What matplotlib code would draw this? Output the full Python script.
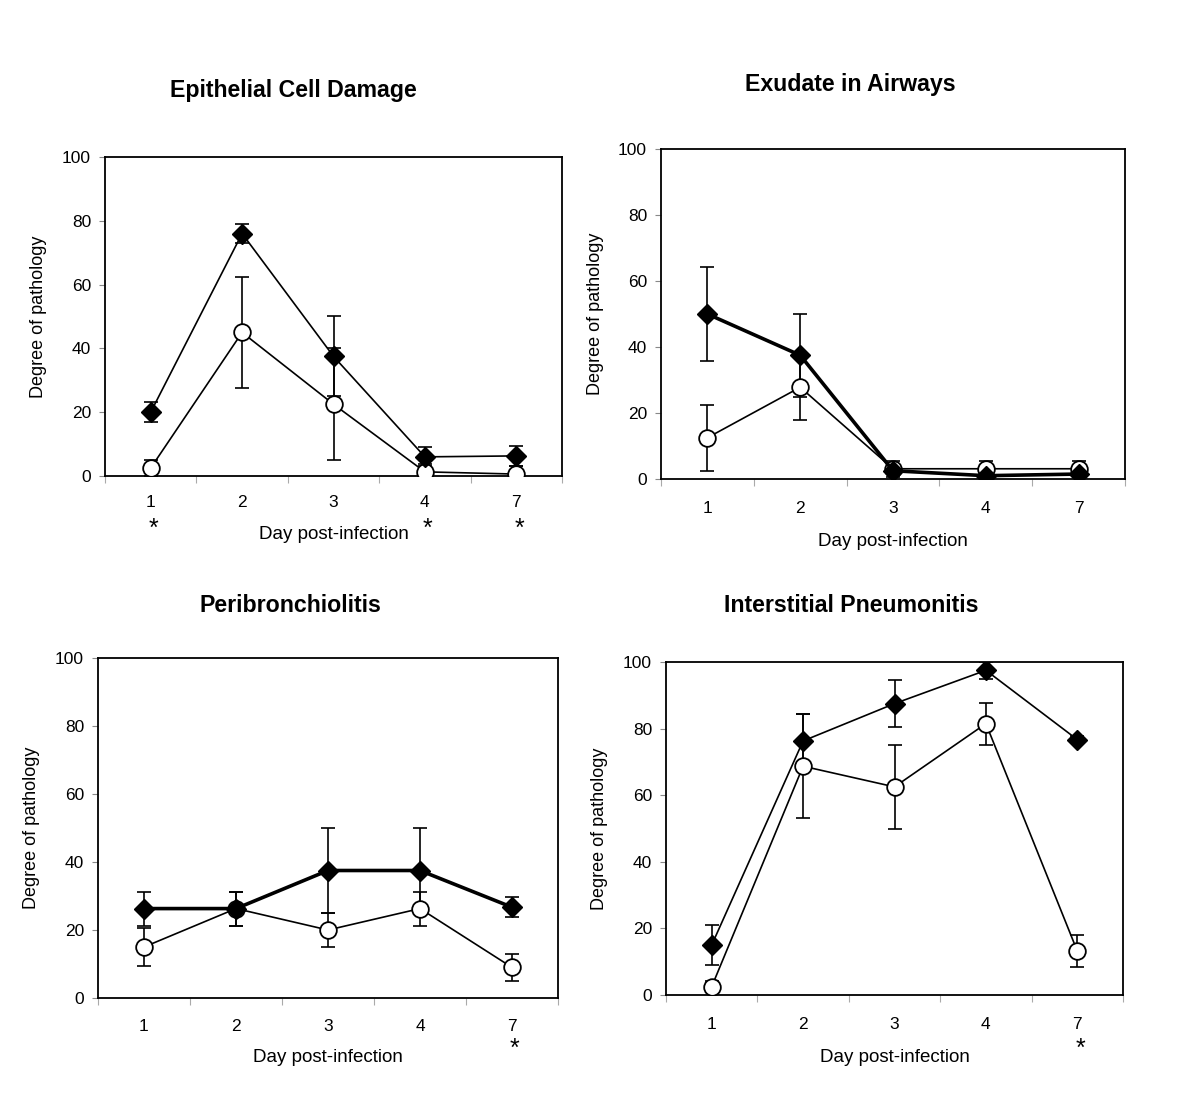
import matplotlib
matplotlib.use("Agg")
import matplotlib.pyplot as plt
from matplotlib.transforms import blended_transform_factory

plt.rcParams['font.family'] = ['Liberation Sans', 'DejaVu Sans']

days = ['1', '2', '3', '4', '7']

# Epithelial Cell Damage
epi_filled = [20, 76, 37.5, 6, 6.3]
epi_filled_err = [3.2, 3, 12.5, 3, 3.2]
epi_open = [2.5, 45, 22.5, 1.3, 0.6]
epi_open_err = [2.5, 17.5, 17.5, 2.5, 2.5]
epi_stars = ['1', '4', '7']

# Exudate in Airways
exu_filled = [50, 37.5, 2.5, 1, 1.5]
exu_filled_err = [14.3, 12.5, 1, 1, 1]
exu_open = [12.5, 27.8, 3.1, 3.1, 3.1]
exu_open_err = [10, 10, 2.5, 2.5, 2.5]
exu_stars = []

# Peribronchiolitis
peri_filled = [26.3, 26.3, 37.5, 37.5, 26.7]
peri_filled_err = [5, 5, 12.5, 12.5, 3]
peri_open = [15, 26.3, 20, 26.3, 9]
peri_open_err = [5.7, 5, 5, 5, 4]
peri_stars = ['7']

# Interstitial Pneumonitis
int_filled = [15, 76.3, 87.5, 97.5, 76.7]
int_filled_err = [6, 8, 7, 2.5, 1]
int_open = [2.5, 68.7, 62.5, 81.5, 13.2]
int_open_err = [1.7, 15.6, 12.5, 6.3, 4.7]
int_stars = ['7']

W, H = 1200, 1107
fig = plt.figure(figsize=(W / 100, H / 100), dpi=100)


def px_axes(left, top, right, bottom):
    return fig.add_axes([left / W, 1 - bottom / H, (right - left) / W, (bottom - top) / H])


def draw_panel(box, title, title_xy, filled, filled_err, opn, opn_err, stars,
               thick, tick_pad, xlabel_y, ylabel_x, star_y):
    ax = px_axes(*box)
    x = list(range(len(days)))
    ax.errorbar(x, filled, yerr=filled_err, fmt='none', ecolor='black',
                elinewidth=1.2, capsize=5, capthick=1.2, zorder=2)
    ax.errorbar(x, opn, yerr=opn_err, fmt='none', ecolor='black',
                elinewidth=1.2, capsize=5, capthick=1.2, zorder=2)
    ax.plot(x, opn, color='black', lw=1.2, marker='o', ms=12,
            mfc='white', mec='black', mew=1.3, zorder=3)
    ax.plot(x, filled, color='black', lw=2.6 if thick else 1.2, marker='D', ms=10.5,
            mfc='black', mec='black', zorder=4)

    ax.set_xlim(-0.5, len(days) - 0.5)
    ax.set_ylim(0, 100)
    ax.set_yticks([0, 20, 40, 60, 80, 100])
    ax.tick_params(axis='y', labelsize=12.5, length=4, width=0.8, pad=6, color='#888888')

    ax.set_xticks([i - 0.5 for i in range(len(days) + 1)])
    ax.set_xticklabels([])
    ax.tick_params(axis='x', which='major', length=5, width=0.8, color='#aaaaaa')
    ax.set_xticks(x, minor=True)
    ax.set_xticklabels(days, minor=True)
    ax.tick_params(axis='x', which='minor', length=0, labelsize=12.5, pad=tick_pad)

    for s in ax.spines.values():
        s.set_linewidth(1.3)

    ax.set_xlabel('Day post-infection', fontsize=13.5)
    ax.xaxis.set_label_coords(0.5, xlabel_y)
    ax.set_ylabel('Degree of pathology', fontsize=13)
    ax.yaxis.set_label_coords(ylabel_x, 0.5)

    tr = blended_transform_factory(ax.transData, ax.transAxes)
    for d in stars:
        ax.text(days.index(d) + 0.03, star_y, '*', transform=tr, ha='center',
                va='center', fontsize=18)

    fig.text(title_xy[0] / W, 1 - title_xy[1] / H, title, ha='center', va='center',
             fontsize=16.7, fontweight='bold')
    return ax


draw_panel((105, 157, 562, 476), 'Epithelial Cell Damage', (293, 90),
           epi_filled, epi_filled_err, epi_open, epi_open_err, epi_stars,
           False, 14, -0.158, -0.127, -0.165)
draw_panel((661, 149, 1125, 479), 'Exudate in Airways', (850, 85),
           exu_filled, exu_filled_err, exu_open, exu_open_err, exu_stars,
           True, 16, -0.165, -0.123, -0.2)
draw_panel((98, 658, 558, 998), 'Peribronchiolitis', (290, 606),
           peri_filled, peri_filled_err, peri_open, peri_open_err, peri_stars,
           True, 15, -0.15, -0.126, -0.15)
draw_panel((666, 662, 1123, 995), 'Interstitial Pneumonitis', (851, 605),
           int_filled, int_filled_err, int_open, int_open_err, int_stars,
           False, 15.5, -0.162, -0.127, -0.162)

fig.savefig('out.png', dpi=100)
